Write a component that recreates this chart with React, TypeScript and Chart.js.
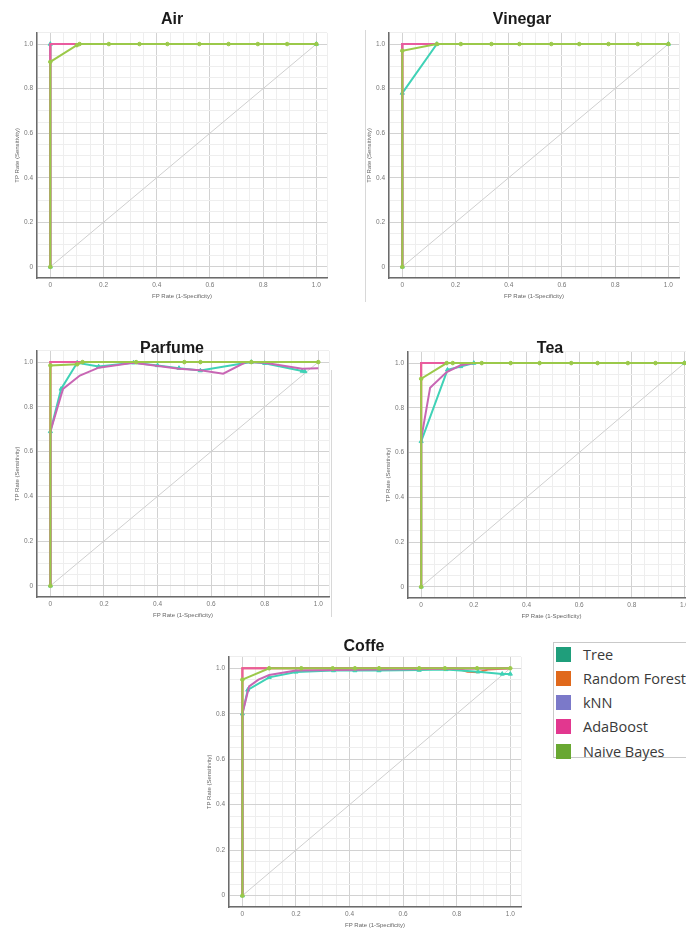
import React, { useEffect, useRef } from 'react';
import { Chart, registerables } from 'chart.js';

Chart.register(...registerables);

// ---------- data ----------
const seriesNames = ['Tree', 'Random Forest', 'kNN', 'AdaBoost', 'Naive Bayes'];
const legendColors = ['#1f9e7b', '#e0691c', '#7b79c9', '#e2378f', '#69a832'];
const lineColors = ['#3fd2b6', '#ea7440', '#c866b4', '#e95c9f', '#9bc94a'];
const drawOrder = [3, 4, 2, 1, 0];
const panelTitles = ['Air', 'Vinegar', 'Parfume', 'Tea', 'Coffe'];
const axisTickValues = [0, 0.2, 0.4, 0.6, 0.8, 1.0];
const axisTickLabels = ['0', '0.2', '0.4', '0.6', '0.8', '1.0'];
const xAxisTitle = 'FP Rate (1-Specificity)';
const yAxisTitle = 'TP Rate (Sensitivity)';
const diagonal = [[0, 0], [1, 1]];

// Air
const airTree = [[0, 0], [0, 1], [1, 1]];
const airForest = [[0, 0], [0, 1], [1, 1]];
const airKnn = [[0, 0], [0, 1], [0.1, 1], [1, 1]];
const airAda = [[0, 0], [0, 1], [0.1, 1], [1, 1]];
const airBayes = [[0, 0], [0, 0.92], [0.1, 0.995], [0.11, 1], [0.22, 1], [0.335, 1], [0.44, 1], [0.56, 1], [0.67, 1], [0.78, 1], [0.89, 1], [1, 1]];

// Vinegar
const vinegarTree = [[0, 0], [0, 0.78], [0.13, 1], [1, 1]];
const vinegarForest = [[0, 0], [0, 1], [1, 1]];
const vinegarKnn = [[0, 0], [0, 1], [1, 1]];
const vinegarAda = [[0, 0], [0, 1], [0.12, 1], [1, 1]];
const vinegarBayes = [[0, 0], [0, 0.97], [0.13, 1], [0.22, 1], [0.335, 1], [0.44, 1], [0.56, 1], [0.665, 1], [0.775, 1], [0.885, 1], [1, 1]];

// Parfume
const parfumeTree = [[0, 0], [0, 0.69], [0.04, 0.88], [0.1, 0.997], [0.18, 0.98], [0.31, 0.997], [0.4, 0.985], [0.48, 0.973], [0.56, 0.962], [0.75, 1], [0.8, 0.995], [0.94, 0.96], [0.95, 0.958]];
const parfumeForest = [[0, 0], [0, 1], [1, 1]];
const parfumeKnn = [[0, 0], [0, 0.69], [0.047, 0.88], [0.11, 0.94], [0.18, 0.975], [0.31, 0.997], [0.48, 0.97], [0.56, 0.963], [0.645, 0.948], [0.73, 1], [0.8, 0.997], [0.94, 0.97], [1, 0.972]];
const parfumeAda = [[0, 0], [0, 1], [0.1, 1], [1, 1]];
const parfumeBayes = [[0, 0], [0, 0.985], [0.1, 0.99], [0.12, 1], [0.32, 1], [0.5, 1], [0.56, 1], [0.75, 1], [1, 1]];

// Tea
const teaTree = [[0, 0], [0, 0.65], [0.1, 0.97], [0.15, 0.985], [0.2, 1], [1, 1]];
const teaForest = [[0, 0], [0, 1], [1, 1]];
const teaKnn = [[0, 0], [0, 0.66], [0.034, 0.89], [0.097, 0.96], [0.15, 0.99], [0.2, 1], [1, 1]];
const teaAda = [[0, 0], [0, 1], [0.11, 1], [1, 1]];
const teaBayes = [[0, 0], [0, 0.93], [0.097, 1], [0.12, 1], [0.23, 1], [0.34, 1], [0.45, 1], [0.57, 1], [0.67, 1], [0.785, 1], [0.89, 1], [1, 1]];

// Coffe
const coffeTree = [[0, 0], [0, 0.8], [0.02, 0.905], [0.1, 0.96], [0.2, 0.984], [0.34, 0.99], [0.42, 0.99], [0.51, 0.99], [0.66, 0.992], [0.76, 0.995], [0.88, 0.985], [0.97, 0.975], [1, 0.975]];
const coffeForest = [[0, 0], [0, 1], [0.8, 1], [0.84, 0.985], [0.88, 0.983], [0.92, 0.995], [1, 1]];
const coffeKnn = [[0, 0], [0, 0.8], [0.025, 0.92], [0.06, 0.95], [0.1, 0.97], [0.2, 0.99], [0.5, 0.995], [1, 1]];
const coffeAda = [[0, 0], [0, 1], [0.1, 1], [1, 1]];
const coffeBayes = [[0, 0], [0, 0.95], [0.1, 1], [0.22, 1], [0.337, 1], [0.42, 1], [0.51, 1], [0.66, 1], [0.756, 1], [0.876, 1], [1, 1]];

const panelSeries = [
  [airTree, airForest, airKnn, airAda, airBayes],
  [vinegarTree, vinegarForest, vinegarKnn, vinegarAda, vinegarBayes],
  [parfumeTree, parfumeForest, parfumeKnn, parfumeAda, parfumeBayes],
  [teaTree, teaForest, teaKnn, teaAda, teaBayes],
  [coffeTree, coffeForest, coffeKnn, coffeAda, coffeBayes],
];

// ---------- layout ----------
const panelLayout = [
  { plotL: 37, plotR: 328, plotT: 30, plotB: 278, titleX: 172, titleY: 11 },
  { plotL: 389, plotR: 680, plotT: 30, plotB: 278, titleX: 522, titleY: 11 },
  { plotL: 37, plotR: 330, plotT: 348, plotB: 597, titleX: 172, titleY: 340 },
  { plotL: 408, plotR: 696, plotT: 349, plotB: 598, titleX: 550, titleY: 340 },
  { plotL: 229, plotR: 522, plotT: 654, plotB: 907, titleX: 364, titleY: 638 },
];
const X_MIN = -0.05;
const X_MAX = 1.04;
const Y_MIN = -0.05;
const Y_MAX = 1.05;
const GRID_STEP = 0.05;
const Y_AXIS_W = 23;
const PAD_L = 14;
const PAD_T = 5;
const PAD_R = 4;
const X_AXIS_H = 23;

function canvasBox(l: any) {
  const left = l.plotL - Y_AXIS_W - PAD_L;
  const top = l.plotT - PAD_T;
  return { left, top, width: l.plotR + PAD_R - left, height: l.plotB + X_AXIS_H - top };
}

function gridTicks(min: number, max: number) {
  const out: { value: number }[] = [];
  for (let k = Math.ceil(min / GRID_STEP - 1e-9); k * GRID_STEP <= max + 1e-9; k++) {
    out.push({ value: +(k * GRID_STEP).toFixed(4) });
  }
  if (out[out.length - 1].value < max - 1e-9) out.push({ value: max });
  return out;
}

function toPoints(arr: number[][]) {
  return arr.map(([x, y]) => ({ x, y }));
}

function tickLabel(value: number) {
  const i = axisTickValues.findIndex((t) => Math.abs(t - value) < 1e-6);
  return i >= 0 ? axisTickLabels[i] : '';
}

function gridColor(ctx: any) {
  const v = ctx.tick ? ctx.tick.value : 0;
  const major = axisTickValues.some((t) => Math.abs(t - v) < 1e-6);
  return major ? '#d2d2d2' : '#eeeeee';
}

const tickFont = { family: '"Liberation Sans", Arial, sans-serif', size: 6.5 };
const titleFont = { family: '"Liberation Sans", Arial, sans-serif', size: 6 };

export default function App() {
  const refs = useRef<(HTMLCanvasElement | null)[]>([]);

  useEffect(() => {
    const charts = panelSeries.map((series, i) => {
      const cv = refs.current[i] as HTMLCanvasElement;
      const datasets: any[] = series.map((s, k) => ({
        label: seriesNames[k],
        data: toPoints(s),
        showLine: true,
        borderColor: lineColors[k],
        backgroundColor: lineColors[k],
        borderWidth: 2,
        tension: 0,
        pointRadius: k === 0 ? 2.4 : k === 4 ? 1.8 : 0,
        pointStyle: k === 0 ? 'triangle' : 'circle',
        pointBorderWidth: 1,
        pointBorderColor: lineColors[k],
        pointBackgroundColor: lineColors[k],
        order: drawOrder[k],
      }));
      datasets.push({
        label: 'diagonal',
        data: toPoints(diagonal),
        showLine: true,
        borderColor: '#cfcfcf',
        borderWidth: 1,
        pointRadius: 0,
        order: 10,
      });
      return new Chart(cv, {
        type: 'scatter',
        data: { datasets },
        options: {
          responsive: false,
          animation: false,
          events: [],
          layout: { padding: { left: PAD_L, top: PAD_T, right: PAD_R, bottom: 0 } },
          plugins: { legend: { display: false }, tooltip: { enabled: false }, title: { display: false } },
          scales: {
            x: {
              type: 'linear',
              min: X_MIN,
              max: X_MAX,
              afterBuildTicks: (scale: any) => {
                scale.ticks = gridTicks(X_MIN, X_MAX);
              },
              afterFit: (scale: any) => {
                scale.height = X_AXIS_H;
              },
              ticks: {
                autoSkip: false,
                maxRotation: 0,
                minRotation: 0,
                padding: 3,
                color: '#777',
                font: tickFont,
                callback: (v: any) => tickLabel(Number(v)),
              },
              grid: { color: gridColor, lineWidth: 1, drawTicks: false },
              border: { display: true, color: '#6b6b6b', width: 1.5 },
              title: { display: true, text: xAxisTitle, color: '#666', font: titleFont, padding: { top: 0, bottom: 1 } },
            },
            y: {
              type: 'linear',
              min: Y_MIN,
              max: Y_MAX,
              afterBuildTicks: (scale: any) => {
                scale.ticks = gridTicks(Y_MIN, Y_MAX);
              },
              afterFit: (scale: any) => {
                scale.width = Y_AXIS_W;
              },
              ticks: {
                autoSkip: false,
                padding: 4,
                color: '#777',
                font: tickFont,
                callback: (v: any) => tickLabel(Number(v)),
              },
              grid: { color: gridColor, lineWidth: 1, drawTicks: false },
              border: { display: true, color: '#6b6b6b', width: 1.5 },
              title: { display: true, text: yAxisTitle, color: '#666', font: titleFont, padding: { top: 0, bottom: 0 } },
            },
          },
        } as any,
      });
    });
    return () => charts.forEach((c) => c.destroy());
  }, []);

  return (
    <div style={{ position: 'fixed', left: 0, top: 0, width: 686, height: 931, overflow: 'hidden', background: '#fff' }}>
      {panelLayout.map((l, i) => {
        const b = canvasBox(l);
        return (
          <canvas
            key={'c' + i}
            ref={(el) => {
              refs.current[i] = el;
            }}
            width={b.width}
            height={b.height}
            style={{ position: 'absolute', left: b.left, top: b.top, width: b.width, height: b.height }}
          />
        );
      })}
      {panelLayout.map((l, i) => (
        <div
          key={'t' + i}
          style={{
            position: 'absolute',
            left: l.titleX - 60,
            top: l.titleY,
            width: 120,
            textAlign: 'center',
            font: 'bold 16px "Liberation Sans", Arial, sans-serif',
            lineHeight: '16px',
            color: '#1a1a1a',
          }}
        >
          {panelTitles[i]}
        </div>
      ))}
      <div style={{ position: 'absolute', left: 365, top: 30, width: 1, height: 272, background: '#d8d8d8' }} />
      <div style={{ position: 'absolute', left: 331, top: 370, width: 1, height: 247, background: '#d8d8d8' }} />
      <div
        style={{
          position: 'absolute',
          left: 553,
          top: 642,
          width: 150,
          height: 116,
          border: '1px solid #c9c9c9',
          boxSizing: 'border-box',
          background: '#fff',
        }}
      >
        {seriesNames.map((n, k) => (
          <div
            key={n}
            style={{ position: 'absolute', left: 2, top: 3 + k * 24.3, height: 16, display: 'flex', alignItems: 'center', whiteSpace: 'nowrap' }}
          >
            <span style={{ display: 'inline-block', width: 15, height: 15, background: legendColors[k] }} />
            <span style={{ marginLeft: 12, font: '14.5px "Open Sans", "Noto Sans", sans-serif', color: '#3a3a3a' }}>{n}</span>
          </div>
        ))}
      </div>
    </div>
  );
}
